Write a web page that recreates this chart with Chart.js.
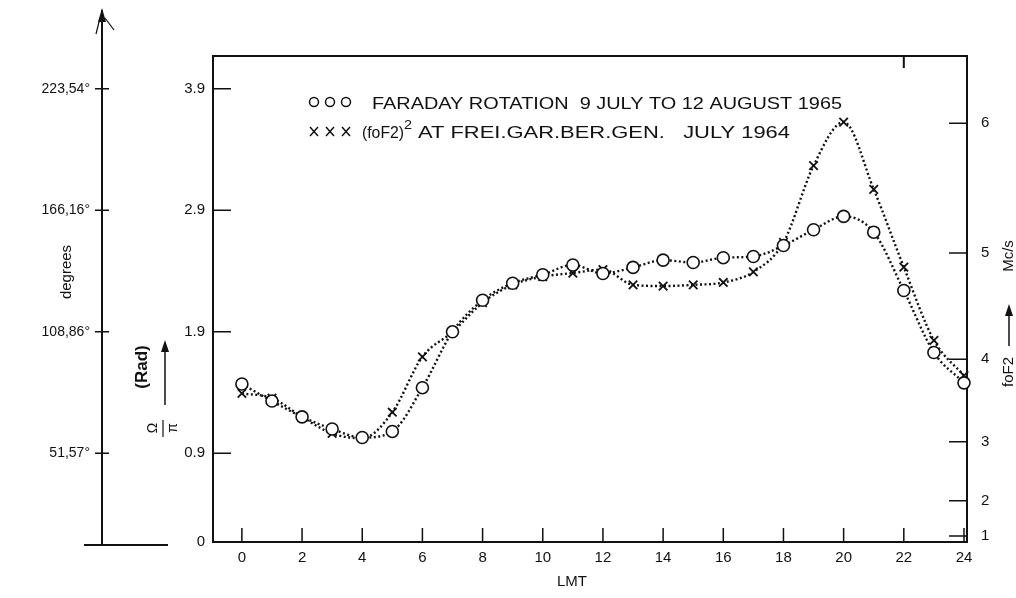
<!DOCTYPE html>
<html>
<head>
<meta charset="utf-8">
<script src="https://cdn.jsdelivr.net/npm/chart.js@4/dist/chart.umd.min.js"></script>
<style>
  body { margin: 0; background: #fff; }
  canvas { display: block; }
</style>
</head>
<body>
<canvas id="chart" width="1016" height="598"></canvas>
<script>
// local mean time, hours
const hours = [0, 1, 2, 3, 4, 5, 6, 7, 8, 9, 10, 11, 12, 13, 14, 15, 16, 17, 18, 19, 20, 21, 22, 23, 24];

// Faraday rotation Omega/pi (Rad), 9 July - 12 August 1965
const faraday = [1.47, 1.33, 1.20, 1.10, 1.03, 1.08, 1.44, 1.90, 2.16, 2.30, 2.37, 2.45, 2.38,
                 2.43, 2.49, 2.47, 2.51, 2.52, 2.61, 2.74, 2.85, 2.72, 2.24, 1.73, 1.48];

// (foF2)^2 at Frei.Gar.Ber.Gen., July 1964
const foF2sq = [13.1, 12.7, 11.1, 9.7, 9.3, 11.5, 16.2, 18.3, 20.8, 22.3, 23.0, 23.3, 23.6,
                22.3, 22.2, 22.3, 22.5, 23.4, 25.9, 32.4, 36.1, 30.4, 23.8, 17.6, 14.6];

// axis ticks
const hourTicks = [0, 2, 4, 6, 8, 10, 12, 14, 16, 18, 20, 22, 24];
const radTicks = [0.9, 1.9, 2.9, 3.9];
const degLabels = ['51,57°', '108,86°', '166,16°', '223,54°'];
const foF2Ticks = [1, 2, 3, 4, 5, 6];

const radMin = 0.17, radMax = 4.17;
const ink = '#111';
const font = "'Liberation Sans', Arial, sans-serif";

function tickSet(values) {
  return values.map(v => ({ value: v }));
}

// inward tick marks, frame, extra axis and annotations
const decorations = {
  id: 'decorations',
  afterDraw(chart) {
    const ctx = chart.ctx;
    const area = chart.chartArea;
    const sx = chart.scales.x, sy = chart.scales.y, sy2 = chart.scales.y2, sd = chart.scales.deg;
    ctx.save();
    ctx.strokeStyle = ink;
    ctx.fillStyle = ink;
    ctx.lineWidth = 2;

    // top frame line + its single tick
    ctx.beginPath();
    ctx.moveTo(area.left, area.top);
    ctx.lineTo(area.right, area.top);
    let tx = sx.getPixelForValue(22);
    ctx.moveTo(tx, area.top);
    ctx.lineTo(tx, area.top + 12);
    ctx.stroke();

    ctx.lineWidth = 1.5;
    ctx.beginPath();
    hourTicks.forEach(h => {
      const px = sx.getPixelForValue(h);
      ctx.moveTo(px, area.bottom);
      ctx.lineTo(px, area.bottom - 14);
    });
    radTicks.forEach(v => {
      const py = sy.getPixelForValue(v);
      ctx.moveTo(area.left, py);
      ctx.lineTo(area.left + 18, py);
    });
    foF2Ticks.forEach(f => {
      const py = sy2.getPixelForValue(f * f);
      ctx.moveTo(area.right, py);
      ctx.lineTo(area.right - 18, py);
    });
    // degrees axis: ticks cross the line
    const dx = sd.right;
    radTicks.forEach(v => {
      const py = sd.getPixelForValue(v);
      ctx.moveTo(dx - 7, py);
      ctx.lineTo(dx + 7, py);
    });
    ctx.stroke();

    // degrees axis extension, arrow, base line
    ctx.lineWidth = 2;
    ctx.beginPath();
    ctx.moveTo(dx, area.top);
    ctx.lineTo(dx, 10);
    ctx.moveTo(dx - 18, area.bottom + 3);
    ctx.lineTo(dx + 66, area.bottom + 3);
    ctx.moveTo(dx, area.bottom);
    ctx.lineTo(dx, area.bottom + 3);
    ctx.stroke();
    ctx.beginPath();
    ctx.moveTo(dx, 8);
    ctx.lineTo(dx - 4, 22);
    ctx.lineTo(dx + 4, 22);
    ctx.closePath();
    ctx.fill();
    ctx.lineWidth = 1.2;
    ctx.beginPath();
    ctx.moveTo(dx - 2, 18);
    ctx.lineTo(dx - 6, 34);
    ctx.moveTo(dx + 3, 18);
    ctx.lineTo(dx + 12, 30);
    ctx.stroke();

    // rotated labels
    function vtext(txt, x, y, f) {
      ctx.save();
      ctx.translate(x, y);
      ctx.rotate(-Math.PI / 2);
      ctx.font = f;
      ctx.textAlign = 'center';
      ctx.textBaseline = 'middle';
      ctx.fillText(txt, 0, 0);
      ctx.restore();
    }
    vtext('degrees', 67, 272, '15px ' + font);
    vtext('(Rad)', 142, 367, 'bold 17px ' + font);
    // Omega / pi fraction
    vtext('Ω', 153, 428, '14px ' + font);
    vtext('π', 173, 428, '14px ' + font);
    ctx.lineWidth = 1.2;
    ctx.beginPath();
    ctx.moveTo(163, 420);
    ctx.lineTo(163, 437);
    ctx.stroke();
    // up arrow next to (Rad)
    ctx.lineWidth = 1.5;
    ctx.beginPath();
    ctx.moveTo(165, 405);
    ctx.lineTo(165, 350);
    ctx.stroke();
    ctx.beginPath();
    ctx.moveTo(165, 340);
    ctx.lineTo(161, 352);
    ctx.lineTo(169, 352);
    ctx.closePath();
    ctx.fill();

    // right axis title: foF2 -> Mc/s
    vtext('foF2', 1009, 372, '15px ' + font);
    ctx.beginPath();
    ctx.moveTo(1009, 346);
    ctx.lineTo(1009, 314);
    ctx.stroke();
    ctx.beginPath();
    ctx.moveTo(1009, 304);
    ctx.lineTo(1005, 316);
    ctx.lineTo(1013, 316);
    ctx.closePath();
    ctx.fill();
    vtext('Mc/s', 1009, 256, '15px ' + font);

    // LMT
    ctx.font = '15px ' + font;
    ctx.textAlign = 'center';
    ctx.textBaseline = 'middle';
    ctx.fillText('LMT', 572, 582);

    // legend block
    ctx.lineWidth = 1.5;
    [314, 330, 346].forEach(x => {
      ctx.beginPath();
      ctx.arc(x, 102, 4.5, 0, Math.PI * 2);
      ctx.stroke();
      ctx.beginPath();
      ctx.moveTo(x - 4, 127);
      ctx.lineTo(x + 4, 136);
      ctx.moveTo(x + 4, 127);
      ctx.lineTo(x - 4, 136);
      ctx.stroke();
    });
    function fitText(txt, x, y, w, f) {
      ctx.save();
      ctx.font = f;
      ctx.textAlign = 'left';
      ctx.textBaseline = 'alphabetic';
      const m = ctx.measureText(txt).width;
      ctx.translate(x, y);
      ctx.scale(w / m, 1);
      ctx.fillText(txt, 0, 0);
      ctx.restore();
    }
    fitText('FARADAY ROTATION  9 JULY TO 12 AUGUST 1965', 372, 109, 470, '17px ' + font);
    fitText('(foF2)', 362, 138, 42, '17px ' + font);
    fitText('2', 404, 129, 8, '12px ' + font);
    fitText('AT FREI.GAR.BER.GEN.   JULY 1964', 418, 138, 372, '17px ' + font);

    ctx.restore();
  }
};

const tickFont = { family: font, size: 15 };

new Chart(document.getElementById('chart'), {
  type: 'line',
  data: {
    datasets: [{
      label: 'Faraday rotation',
      data: hours.map((h, i) => ({ x: h, y: faraday[i] })),
      yAxisID: 'y',
      borderColor: ink,
      borderWidth: 2.4,
      borderDash: [2, 2.5],
      cubicInterpolationMode: 'monotone',
      pointStyle: 'circle',
      pointRadius: 6,
      pointBorderWidth: 1.6,
      pointBorderColor: ink,
      pointBackgroundColor: '#fff',
      clip: false
    }, {
      label: '(foF2)^2',
      data: hours.map((h, i) => ({ x: h, y: foF2sq[i] })),
      yAxisID: 'y2',
      borderColor: ink,
      borderWidth: 2.4,
      borderDash: [2, 2.5],
      cubicInterpolationMode: 'monotone',
      pointStyle: 'crossRot',
      pointRadius: 6,
      pointBorderWidth: 1.8,
      pointBorderColor: ink,
      clip: false
    }]
  },
  options: {
    responsive: false,
    animation: false,
    layout: { padding: { top: 56, left: 0, right: 0, bottom: 0 } },
    plugins: {
      legend: { display: false },
      tooltip: { enabled: false }
    },
    scales: {
      x: {
        type: 'linear',
        min: -0.96,
        max: 24.1,
        afterBuildTicks: s => { s.ticks = tickSet(hourTicks); },
        afterFit: s => { s.height = 56; },
        grid: { display: false, drawTicks: false },
        border: { display: true, color: ink, width: 2 },
        ticks: { color: ink, font: tickFont, padding: 7, maxRotation: 0 }
      },
      deg: {
        type: 'linear',
        position: 'left',
        weight: 2,
        min: radMin,
        max: radMax,
        afterBuildTicks: s => { s.ticks = tickSet(radTicks); },
        afterFit: s => { s.width = 102; },
        grid: { display: false, drawTicks: false },
        border: { display: true, color: ink, width: 2 },
        ticks: {
          color: ink, font: { family: font, size: 14 }, padding: 12,
          callback: (v, i) => degLabels[i]
        }
      },
      y: {
        type: 'linear',
        position: 'left',
        weight: 1,
        min: radMin,
        max: radMax,
        afterBuildTicks: s => { s.ticks = tickSet([radMin].concat(radTicks)); },
        afterFit: s => { s.width = 111; },
        grid: { display: false, drawTicks: false },
        border: { display: true, color: ink, width: 2 },
        ticks: {
          color: ink, font: tickFont, padding: 8,
          callback: v => (v === radMin ? '0' : v.toFixed(1))
        }
      },
      y2: {
        type: 'linear',
        position: 'right',
        min: 0.5,
        max: 41.7,
        afterBuildTicks: s => { s.ticks = tickSet(foF2Ticks.map(f => f * f)); },
        afterFit: s => { s.width = 49; },
        grid: { display: false, drawTicks: false },
        border: { display: true, color: ink, width: 2 },
        ticks: {
          color: ink, font: tickFont, padding: 14,
          callback: v => String(Math.round(Math.sqrt(v)))
        }
      }
    }
  },
  plugins: [decorations]
});
</script>
</body>
</html>
